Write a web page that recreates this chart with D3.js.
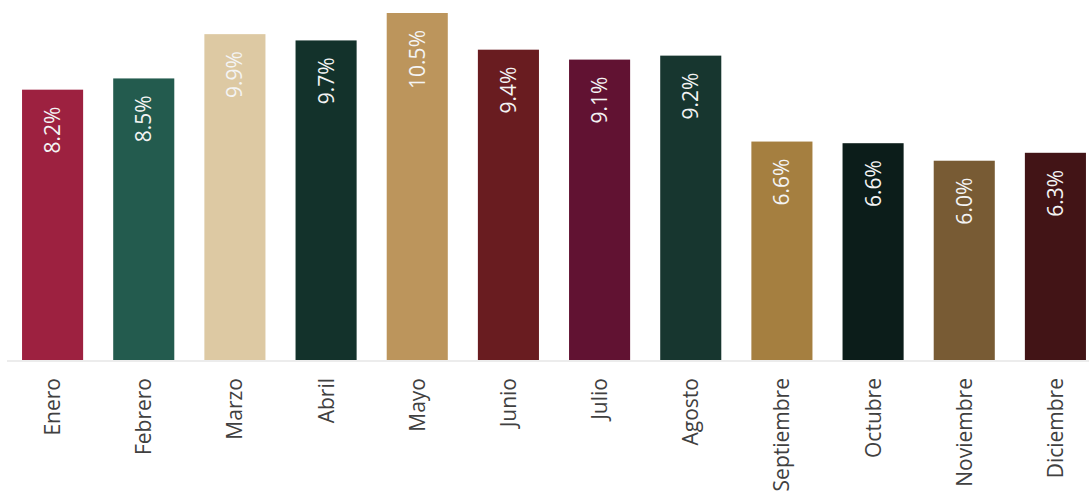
<!DOCTYPE html>
<html><head><meta charset="utf-8">
<script src="https://cdn.jsdelivr.net/npm/d3@7"></script>
<style>html,body{margin:0;padding:0;background:#fff;}svg{display:block;}</style>
</head><body>
<script>
const months = ["Enero","Febrero","Marzo","Abril","Mayo","Junio","Julio","Agosto","Septiembre","Octubre","Noviembre","Diciembre"];
const values = [8.18, 8.52, 9.86, 9.67, 10.5, 9.39, 9.09, 9.21, 6.61, 6.56, 6.03, 6.27];
const colors = ["#9d2140","#235b4e","#ddc9a3","#13322b","#bc955c","#691c20","#611232","#17362f","#a57f40","#0c1d1a","#785b34","#421416"];

const W = 1089, H = 493;
const svg = d3.select("body").append("svg").attr("width", W).attr("height", H);
const baseY = 360;
const x = d3.scaleBand().domain(months).range([7, 1101]).paddingInner(0.33).paddingOuter(0.165);
const y = d3.scaleLinear().domain([0, 10.5]).range([baseY, 13]);

svg.append("g").selectAll("rect").data(months).join("rect")
  .attr("x", d => x(d)).attr("width", x.bandwidth())
  .attr("y", (d,i) => y(values[i])).attr("height", (d,i) => baseY - y(values[i]))
  .attr("fill", (d,i) => colors[i]);

svg.append("line").attr("x1", 7).attr("x2", W).attr("y1", baseY + 1).attr("y2", baseY + 1)
  .attr("stroke", "#e6e6e6").attr("stroke-width", 1.5);

const fmt = d3.format(".1f");
svg.append("g").selectAll("text").data(months).join("text")
  .attr("transform", (d,i) => `translate(${x(d) + x.bandwidth()/2 + 7.5},${y(values[i]) + 17}) rotate(-90)`)
  .attr("text-anchor", "end")
  .attr("font-family", "'Open Sans', sans-serif").attr("font-size", 21).attr("font-weight", 400)
  .attr("fill", "#f4f4f4")
  .text((d,i) => fmt(values[i]) + "%");

const xAxis = d3.axisBottom(x).tickSize(0).tickPadding(0);
const gx = svg.append("g").attr("transform", `translate(0,${baseY})`).call(xAxis);
gx.select(".domain").remove();
gx.selectAll(".tick text")
  .attr("transform", "translate(7.5,18) rotate(-90)")
  .attr("x", 0).attr("y", 0).attr("dy", 0)
  .attr("text-anchor", "end")
  .attr("font-family", "'Open Sans', sans-serif").attr("font-size", 21)
  .attr("fill", "#404040");
</script>
</body></html>
